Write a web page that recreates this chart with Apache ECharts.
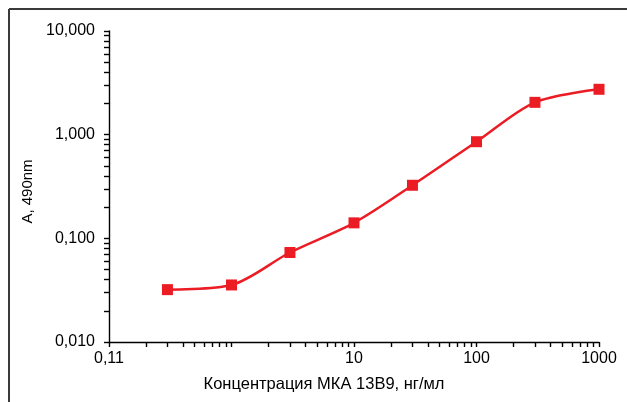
<!DOCTYPE html>
<html>
<head>
<meta charset="utf-8">
<script src="https://cdn.jsdelivr.net/npm/echarts@6/dist/echarts.min.js"></script>
<style>
  html, body { margin: 0; padding: 0; background: #fff; }
  #chartID { width: 627px; height: 402px; }
</style>
</head>
<body>
<div id="chartID"></div>
<script>
// концентрация МКА 13В9, нг/мл и оптическая плотность
var concArray = [0.3, 1, 3, 10, 30, 100, 300, 1000];
var absArray = [0.032, 0.0355, 0.073, 0.141, 0.325, 0.855, 2.05, 2.74];
var xTickArray = [0.1, 0.2, 0.3, 0.4, 0.5, 0.6, 0.7, 0.8, 0.9, 1, 2, 3, 4, 5, 6, 7, 8, 9,
	10, 20, 30, 40, 50, 60, 70, 80, 90, 100, 200, 300, 400, 500, 600, 700, 800, 900, 1000];
var yTickArray = [0.01, 0.02, 0.03, 0.04, 0.05, 0.06, 0.07, 0.08, 0.09, 0.1, 0.2, 0.3, 0.4, 0.5, 0.6, 0.7, 0.8, 0.9,
	1, 2, 3, 4, 5, 6, 7, 8, 9, 10];
var xLabelArray = [0.1, 10, 100, 1000];
var xLabelTextArray = ["0,11", "10", "100", "1000"];
var yLabelArray = [0.01, 0.1, 1, 10];

var chart = echarts.init(document.getElementById('chartID'));
var font = '"Liberation Sans", Arial, sans-serif';
var lineData = [];
for (var i = 0; i < concArray.length; i++) {
	lineData.push([concArray[i], absArray[i]]);
}

var option = {
	animation: false,
	grid: { left: 109, top: 31, width: 490, height: 311 },
	xAxis: {
		type: 'log',
		logBase: 10,
		min: 0.1,
		max: 1000,
		name: 'Концентрация МКА 13В9, нг/мл',
		nameLocation: 'middle',
		nameGap: 34,
		nameTextStyle: { color: '#000', fontSize: 16.5, fontFamily: font, padding: [0, 60, 0, 0] },
		axisLine: { show: true, lineStyle: { color: '#000', width: 1.4 } },
		axisTick: { show: true, length: 5, customValues: xTickArray, lineStyle: { color: '#000', width: 1.4 } },
		axisLabel: {
			color: '#000', fontSize: 16, fontFamily: font, margin: 9,
			customValues: xLabelArray,
			formatter: function (v) {
				var k = xLabelArray.indexOf(v);
				return k >= 0 ? xLabelTextArray[k] : '';
			}
		},
		splitLine: { show: false }
	},
	yAxis: {
		type: 'log',
		logBase: 10,
		min: 0.01,
		max: 10,
		name: 'A, 490nm',
		nameLocation: 'middle',
		nameGap: 74,
		nameTextStyle: { color: '#000', fontSize: 15, fontFamily: font, padding: [0, 0, 0, -10] },
		axisLine: { show: true, lineStyle: { color: '#000', width: 1.4 } },
		axisTick: { show: true, length: 5, customValues: yTickArray, lineStyle: { color: '#000', width: 1.4 } },
		axisLabel: {
			color: '#000', fontSize: 16, fontFamily: font, margin: 14,
			customValues: yLabelArray,
			formatter: function (v) { return v.toFixed(3).replace('.', ','); }
		},
		splitLine: { show: false }
	},
	graphic: [
		{ type: 'line', shape: { x1: 9, y1: 9, x2: 9, y2: 402 }, style: { stroke: '#3a3a3a', lineWidth: 2 } },
		{ type: 'line', shape: { x1: 9, y1: 9, x2: 627, y2: 9 }, style: { stroke: '#3a3a3a', lineWidth: 2 } }
	],
	series: [
		{
			type: 'line',
			data: lineData,
			smooth: 0.3,
			symbol: 'rect',
			symbolSize: 11,
			lineStyle: { color: '#ec1c24', width: 2.5 },
			itemStyle: { color: '#ec1c24' }
		}
	]
};
chart.setOption(option);
</script>
</body>
</html>
